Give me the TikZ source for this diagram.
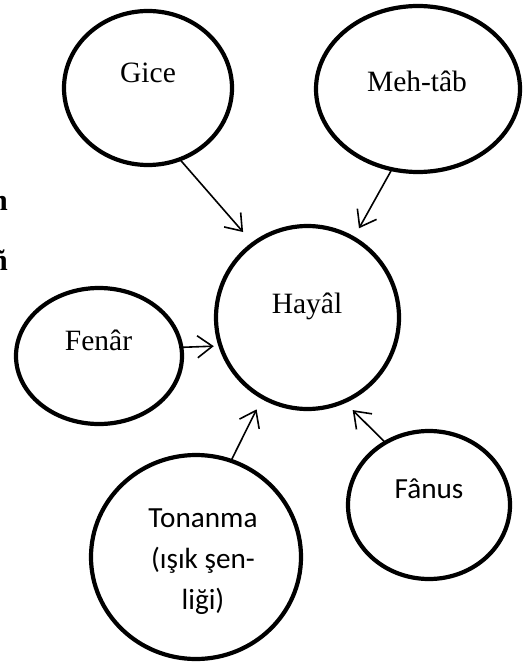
\documentclass[tikz,border=0pt]{standalone}
\usepackage{fontspec}
\setmainfont{Liberation Serif}
\newfontfamily\calibri{Carlito}
\usetikzlibrary{shapes.geometric,arrows.meta,calc}

\tikzset{
  bubble/.style={ellipse, draw, line width=4.2pt, inner sep=0pt, outer sep=0pt},
  arr/.style={-{Straight Barb[length=15pt,width=22pt]}, line width=1.6pt},
  seriflbl/.style={inner sep=0pt, anchor=base, font=\fontsize{29.5}{35}\selectfont},
  sanslbl/.style={inner sep=0pt, anchor=base, font=\calibri\fontsize{29.2}{35}\selectfont},
  sidetxt/.style={inner sep=0pt, anchor=base east, font=\bfseries\fontsize{30}{36}\selectfont}
}

\begin{document}
\begin{tikzpicture}[x=1pt, y=-1pt]
  \useasboundingbox (0,0) rectangle (524,663);

  % fragments of the neighbouring paragraph, cut by the page edge
  \node[sidetxt] (side1) at (8,210) {n};
  \node[sidetxt] (side2) at (8,270) {ñ};

  % bubbles
  \node[bubble, minimum width=168pt, minimum height=154pt] (gice)  at (148,88)  {};
  \node[bubble, minimum width=204pt, minimum height=166pt] (mehtab) at (418,89) {};
  \node[bubble, minimum width=183pt, minimum height=183pt] (hayal) at (307.5,317.5) {};
  \node[bubble, minimum width=166pt, minimum height=136pt] (fenar) at (99,356)  {};
  \node[bubble, minimum width=210pt, minimum height=204pt] (tonanma) at (196,557) {};
  \node[bubble, minimum width=162pt, minimum height=148pt] (fanus) at (429,505) {};

  % labels
  \node[seriflbl] (tgice)  at (148,83)  {Gice};
  \node[seriflbl] (tmehtab) at (417,92) {Meh-tâb};
  \node[seriflbl] (thayal) at (307,313) {Hayâl};
  \node[seriflbl] (tfenar) at (98.5,350.5) {Fenâr};
  \node[sanslbl]  (tfanus) at (429,498) {Fânus};
  \node[sanslbl]  (ton1) at (203,527) {Tonanma};
  \node[sanslbl]  (ton2) at (203,568) {(ışık şen-};
  \node[sanslbl]  (ton3) at (203,609) {liği)};

  % connectors into the central bubble
  \draw[arr] (gice.-66)    -- ($(hayal.center)!107pt!(hayal.127)$);
  \draw[arr] (mehtab.252.6) -- ($(hayal.center)!103pt!(hayal.60)$);
  \draw[arr] (fenar.6)     -- ($(hayal.center)!98pt!(hayal.197.5)$);
  \draw[arr] (tonanma.70.7) -- ($(hayal.center)!105pt!(hayal.241.4)$);
  \draw[arr] (fanus.125.2) -- ($(hayal.center)!103pt!(hayal.296.2)$);
\end{tikzpicture}
\end{document}
